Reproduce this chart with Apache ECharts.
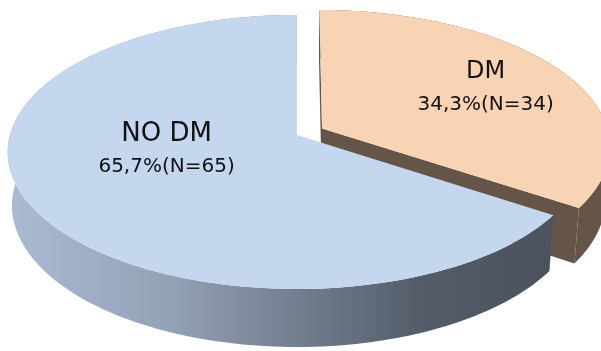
<!DOCTYPE html>
<html>
<head>
<meta charset="utf-8">
<script src="https://cdn.jsdelivr.net/npm/echarts@6/dist/echarts.min.js"></script>
<style>
  html, body { margin: 0; padding: 0; background: #ffffff; }
  #chart { width: 601px; height: 351px; }
</style>
</head>
<body>
<div id="chart"></div>
<script>
// Diabetes status of the cohort
const categories = ['DM', 'NO DM'];
const counts = [34, 65];

const total = counts.reduce((a, b) => a + b, 0);
const percentLabels = counts.map(v => (v / total * 100).toFixed(1).replace('.', ',') + '%');

// Slice styling (top face, side walls) and exploded offsets
const topColors = ['#f9d4b4', '#c5d7ee'];
const sideColors = [
  '#655548',
  {
    type: 'linear', x: 8, y: 0, x2: 556, y2: 0, global: true,
    colorStops: [
      { offset: 0, color: '#abbbd3' },
      { offset: 0.3, color: '#93a1b6' },
      { offset: 0.55, color: '#707b8b' },
      { offset: 0.75, color: '#545c69' },
      { offset: 1, color: '#4b525e' }
    ]
  }
];
const explode = [0.1, 0];
const labelRadius = [0.68, 0.5];
const labelShift = [0, -18];
const nameFont = ['24px "DejaVu Sans"', '26px "DejaVu Sans"'];

// Perspective camera for the tilted disc (radius 1, thickness h)
const cam = {
  alpha: 29.54 * Math.PI / 180,
  D: 7.115,
  F: 2012,
  h: 0.213
};
const sA = Math.sin(cam.alpha), cA = Math.cos(cam.alpha);

function project(X, Y, Z, cx, cy) {
  const depth = cam.D - Y * sA - Z * cA;
  return [cx + cam.F * X / depth, cy + cam.F * (Z * sA - Y * cA) / depth];
}

const startAngles = [];
{
  let acc = 0;
  counts.forEach(v => { startAngles.push(acc / total * 360); acc += v; });
}

function renderItem(params, api) {
  const i = params.dataIndex;
  const value = api.value(0);
  const cx = api.getWidth() * 0.494;
  const cy = api.getHeight() * 0.536;
  const a0 = startAngles[i] * Math.PI / 180;
  const a1 = a0 + value / total * 2 * Math.PI;
  const mid = (a0 + a1) / 2;
  const ex = explode[i] * Math.sin(mid);
  const ez = -explode[i] * Math.cos(mid);
  const h = cam.h;
  const steps = 160;

  const topArc = [], botArc = [];
  for (let k = 0; k <= steps; k++) {
    const t = a0 + (a1 - a0) * k / steps;
    const X = Math.sin(t) + ex, Z = -Math.cos(t) + ez;
    topArc.push(project(X, h, Z, cx, cy));
    botArc.push(project(X, 0, Z, cx, cy));
  }
  const vTop = project(ex, h, ez, cx, cy);
  const vBot = project(ex, 0, ez, cx, cy);
  const base = i === 0 ? 1 : 11;
  const children = [];

  // radial cut faces, drawn only when turned towards the camera
  const camX = 0, camZ = cam.D * cA;
  [[a0, -1], [a1, 1]].forEach(([ang, dir]) => {
    const nAng = ang + dir * Math.PI / 2;
    const nx = Math.sin(nAng), nz = -Math.cos(nAng);
    const dot = nx * (camX - ex) + nz * (camZ - ez);
    if (dot > 1e-6) {
      const X = Math.sin(ang) + ex, Z = -Math.cos(ang) + ez;
      children.push({
        type: 'polygon', z2: base,
        shape: { points: [vTop, project(X, h, Z, cx, cy), project(X, 0, Z, cx, cy), vBot] },
        style: { fill: i === 0 ? sideColors[0] : '#4b525e' }
      });
    }
  });

  // outer wall
  children.push({
    type: 'polygon', z2: base + 1,
    shape: { points: topArc.concat(botArc.slice().reverse()) },
    style: { fill: sideColors[i] }
  });

  // top face
  children.push({
    type: 'polygon', z2: base + 2,
    shape: { points: [vTop].concat(topArc) },
    style: { fill: topColors[i] }
  });

  // label
  const r = labelRadius[i];
  const lp = project(r * Math.sin(mid) + ex, h, -r * Math.cos(mid) + ez, cx, cy);
  const lx = lp[0], ly = lp[1] + labelShift[i];
  children.push({
    type: 'text', z2: 100, x: lx, y: ly - 16,
    style: {
      text: categories[i], fill: '#111111', align: 'center', verticalAlign: 'middle',
      font: nameFont[i]
    }
  });
  children.push({
    type: 'text', z2: 100, x: lx, y: ly + 17,
    style: {
      text: percentLabels[i] + '(N=' + counts[i] + ')', fill: '#111111',
      align: 'center', verticalAlign: 'middle', font: '20px "DejaVu Sans"'
    }
  });

  return { type: 'group', children: children };
}

const chart = echarts.init(document.getElementById('chart'), null, { renderer: 'canvas' });
chart.setOption({
  backgroundColor: '#ffffff',
  animation: false,
  series: [{
    type: 'custom',
    coordinateSystem: 'none',
    renderItem: renderItem,
    data: counts.map((v, i) => ({ name: categories[i], value: [v] }))
  }]
});
</script>
</body>
</html>
